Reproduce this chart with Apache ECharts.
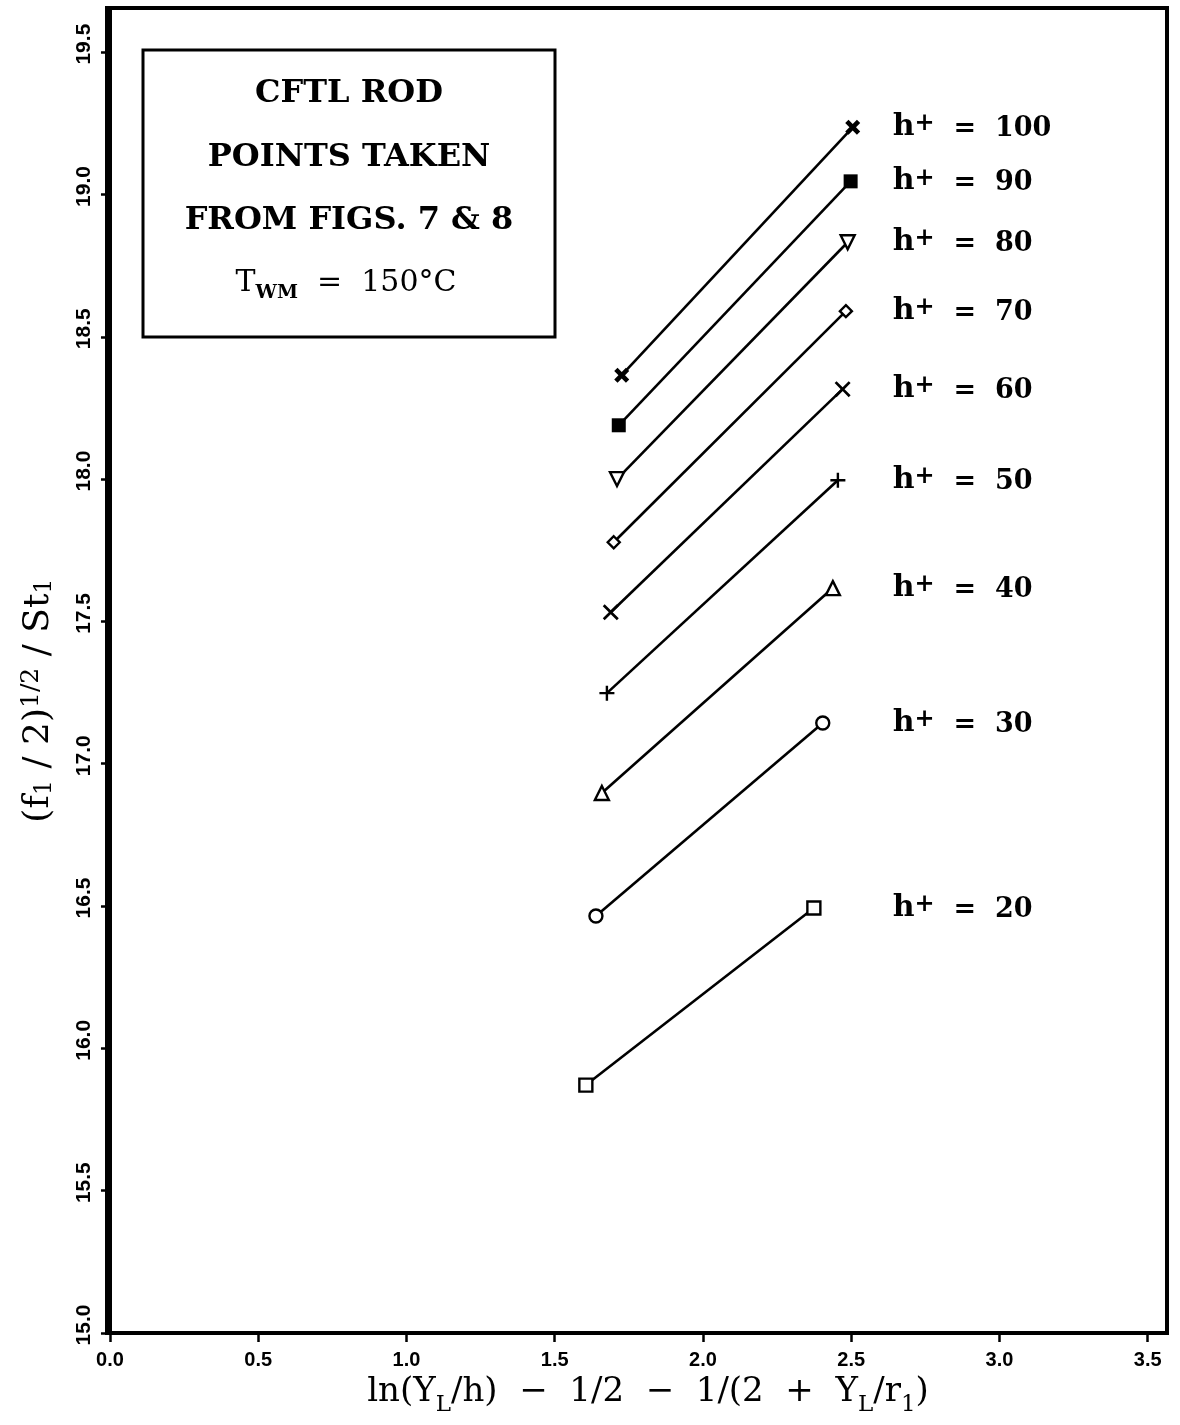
<!DOCTYPE html>
<html>
<head>
<meta charset="utf-8">
<script src="https://cdn.jsdelivr.net/npm/echarts@6/dist/echarts.min.js"></script>
<style>
  html, body { margin: 0; padding: 0; background: #fff; }
  #chart { width: 1180px; height: 1425px; }
</style>
</head>
<body>
<div id="chart"></div>
<script>
// ---- Data ----
const hPlus  = [100, 90, 80, 70, 60, 50, 40, 30, 20];
const xLeft  = [1.726, 1.716, 1.710, 1.699, 1.689, 1.676, 1.659, 1.639, 1.605];
const yLeft  = [18.365, 18.189, 18.000, 17.778, 17.532, 17.248, 16.897, 16.465, 15.871];
const xRight = [2.505, 2.498, 2.488, 2.482, 2.471, 2.455, 2.438, 2.404, 2.374];
const yRight = [19.236, 19.046, 18.832, 18.590, 18.316, 17.996, 17.617, 17.143, 16.493];
const xTicks = [0.0, 0.5, 1.0, 1.5, 2.0, 2.5, 3.0, 3.5];
const yTicks = [15.0, 15.5, 16.0, 16.5, 17.0, 17.5, 18.0, 18.5, 19.0, 19.5];
const boxLines = ['CFTL ROD', 'POINTS TAKEN', 'FROM FIGS. 7 & 8'];

// ---- Styles ----
const X_MARK = 'path://M0 12 L12 0 L50 38 L88 0 L100 12 L62 50 L100 88 L88 100 L50 62 L12 100 L0 88 L38 50 Z';
const BOWTIE = 'path://M0 22 L22 0 L50 28 L78 0 L100 22 L72 50 L100 78 L78 100 L50 72 L22 100 L0 78 L28 50 Z';
const PLUS   = 'path://M42 0 H58 V42 H100 V58 H58 V100 H42 V58 H0 V42 H42 Z';
const markerStyles = [
  { symbol: BOWTIE,     size: 15, fill: '#000' },
  { symbol: 'rect',     size: 14, fill: '#000' },
  { symbol: 'triangle', size: 14, fill: '#fff', rotate: 180 },
  { symbol: 'diamond',  size: 12, fill: '#fff' },
  { symbol: X_MARK,     size: 16, fill: '#000' },
  { symbol: PLUS,       size: 15, fill: '#000' },
  { symbol: 'triangle', size: 14, fill: '#fff' },
  { symbol: 'circle',   size: 13, fill: '#fff' },
  { symbol: 'rect',     size: 13, fill: '#fff' }
];
const LABEL_X = 2.64;
const SERIF = '"DejaVu Serif", "Liberation Serif", serif';
const SANS = '"Liberation Sans", "DejaVu Sans", sans-serif';

const series = hPlus.map((h, i) => {
  const m = markerStyles[i];
  const filled = m.fill === '#000';
  return {
    type: 'line',
    name: 'h+ = ' + h,
    data: [[xLeft[i], yLeft[i]], [xRight[i], yRight[i]]],
    symbol: m.symbol,
    symbolSize: m.size,
    symbolRotate: m.rotate || 0,
    showSymbol: true,
    lineStyle: { color: '#000', width: 2.6 },
    itemStyle: { color: m.fill, borderColor: '#000', borderWidth: filled ? 0 : 2.4 },
    z: 3
  };
});

// h+ labels anchored to right-end y values
series.push({
  type: 'scatter',
  symbolSize: 0,
  itemStyle: { opacity: 1 },
  data: hPlus.map((h, i) => ({ value: [LABEL_X, yRight[i]], h: h })),
  label: {
    show: true,
    position: 'right',
    distance: 0,
    color: '#000',
    opacity: 1,
    textBorderWidth: 0,
    formatter: p => '{h|h}{sup|+}{eq|  =  ' + p.data.h + '}',
    rich: {
      h:   { fontFamily: SERIF, fontWeight: 'bold', fontSize: 30, color: '#000', verticalAlign: 'bottom', lineHeight: 30 },
      sup: { fontFamily: SERIF, fontWeight: 'bold', fontSize: 24, color: '#000', verticalAlign: 'top', lineHeight: 24, padding: [0, 0, 15, 0] },
      eq:  { fontFamily: SERIF, fontWeight: 'bold', fontSize: 27, color: '#000', verticalAlign: 'bottom', lineHeight: 30 }
    }
  },
  silent: true,
  z: 4
});

const chart = echarts.init(document.getElementById('chart'), null, { renderer: 'canvas' });
chart.setOption({
  animation: false,
  backgroundColor: '#fff',
  grid: {
    left: 107, right: 13, top: 8, bottom: 92,
    show: true, borderColor: '#000', borderWidth: 4, backgroundColor: 'transparent'
  },
  xAxis: {
    type: 'value',
    min: -0.01, max: 3.565,
    axisLine: { show: true, lineStyle: { color: '#000', width: 4 } },
    axisTick: { show: true, customValues: xTicks, length: 9, lineStyle: { color: '#000', width: 2.5 } },
    axisLabel: {
      customValues: xTicks, formatter: v => v.toFixed(1), margin: 17,
      fontFamily: SANS, fontWeight: 'bold', fontSize: 20, color: '#000'
    },
    splitLine: { show: false },
    name: '{n|ln(Y}{s|L}{n|/h)  \u2212  1/2  \u2212  1/(2  +  Y}{s|L}{n|/r}{s|1}{n|)}',
    nameLocation: 'middle',
    nameGap: 40,
    nameTextStyle: {
      padding: [0, 0, 0, 22],
      rich: {
        n: { fontFamily: SERIF, fontSize: 34, color: '#000', verticalAlign: 'top', lineHeight: 36 },
        s: { fontFamily: SERIF, fontSize: 23, color: '#000', verticalAlign: 'top', lineHeight: 24, padding: [19, 0, 0, 0] }
      }
    }
  },
  yAxis: {
    type: 'value',
    min: 15, max: 19.655,
    axisLine: { show: true, lineStyle: { color: '#000', width: 4 } },
    axisTick: { show: true, customValues: yTicks, length: 9, lineStyle: { color: '#000', width: 2.5 } },
    axisLabel: {
      customValues: yTicks, formatter: v => v.toFixed(1), rotate: 90, margin: 12,
      padding: [0, 0, 0, 16],
      fontFamily: SANS, fontWeight: 'bold', fontSize: 21, color: '#000'
    },
    splitLine: { show: false },
    name: '{n|(f}{s|1}{n| / 2)}{p|1/2}{n| / St}{s|1}',
    nameLocation: 'middle',
    nameRotate: 90,
    nameGap: 50,
    nameTextStyle: {
      padding: [0, 60, 0, 0],
      rich: {
        n: { fontFamily: SERIF, fontSize: 36, color: '#000', verticalAlign: 'bottom', lineHeight: 38 },
        s: { fontFamily: SERIF, fontSize: 24, color: '#000', verticalAlign: 'bottom', lineHeight: 24 },
        p: { fontFamily: SERIF, fontSize: 25, color: '#000', verticalAlign: 'top', lineHeight: 26, padding: [0, 0, 18, 0] }
      }
    }
  },
  graphic: [
    {
      type: 'rect',
      shape: { x: 143, y: 50, width: 412, height: 287 },
      style: { fill: '#fff', stroke: '#000', lineWidth: 3 },
      z: 10
    },
    ...boxLines.map((t, i) => ({
      type: 'text',
      x: 349, y: 94 + i * 63.5,
      style: {
        text: t, fill: '#000', align: 'center', verticalAlign: 'middle',
        font: 'bold 32px ' + SERIF
      },
      z: 11
    })),
    {
      type: 'text',
      x: 346, y: 284,
      style: {
        text: '{t|T}{s|WM}{t|  =  150\u00B0C}',
        align: 'center', verticalAlign: 'middle',
        rich: {
          t: { fontFamily: SERIF, fontSize: 30, fill: '#000', verticalAlign: 'top', lineHeight: 32 },
          s: { fontFamily: SERIF, fontWeight: 'bold', fontSize: 19, fill: '#000', verticalAlign: 'top', lineHeight: 20, padding: [16, 0, 0, 0] }
        }
      },
      z: 11
    }
  ],
  series: series
});
</script>
</body>
</html>
